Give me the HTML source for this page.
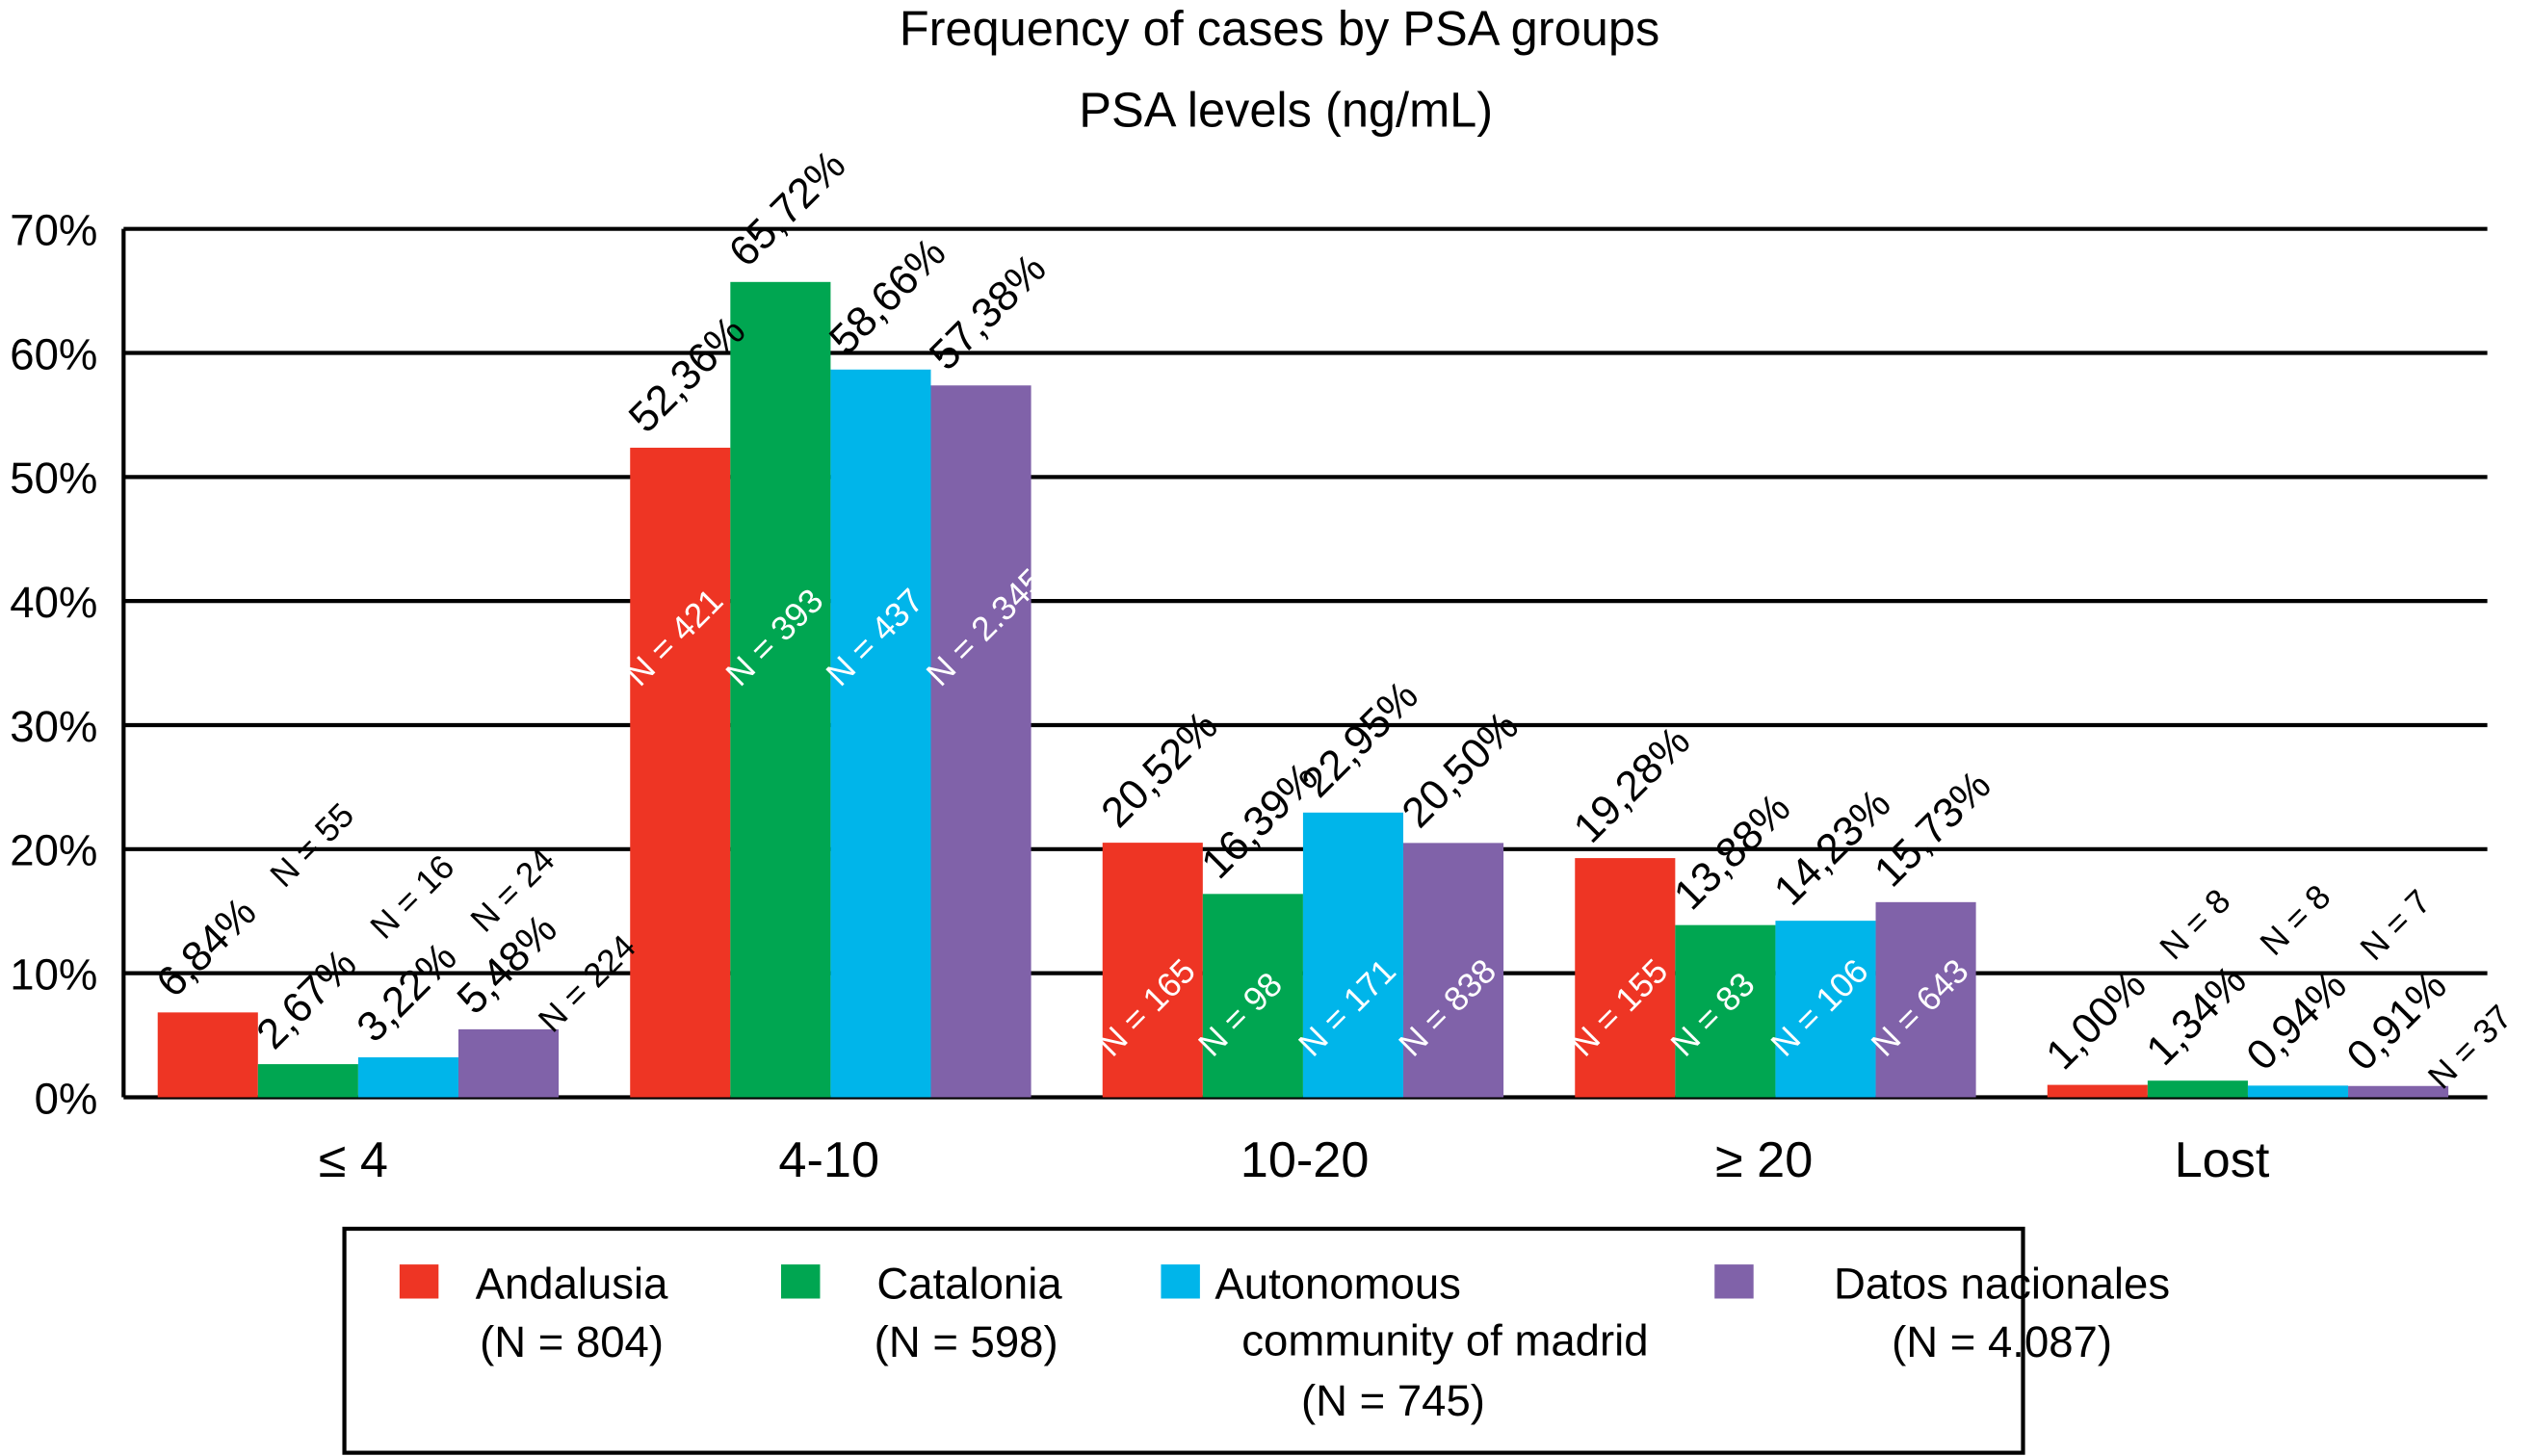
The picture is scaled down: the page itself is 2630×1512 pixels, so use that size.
<!DOCTYPE html>
<html><head><meta charset="utf-8"><style>
html,body{margin:0;padding:0;background:#fff;}
svg{display:block;font-family:"Liberation Sans",Arial,sans-serif;}
</style></head><body>
<svg id="chart" width="2630" height="1512" viewBox="0 0 1560 897" xmlns="http://www.w3.org/2000/svg">
<text x="788" y="28" font-size="30" text-anchor="middle">Frequency of cases by PSA groups</text>
<text x="792" y="78" font-size="30" text-anchor="middle">PSA levels (ng/mL)</text>
<g id="grid"></g><g id="bars"></g><g id="labels"></g>
<g>
<rect x="212" y="757" width="1034" height="138" fill="none" stroke="#000" stroke-width="2.5"/>
<rect x="246" y="779" width="24" height="21" fill="#EE3524"/>
<text font-size="27" text-anchor="middle"><tspan x="352" y="800">Andalusia</tspan><tspan x="352" y="836">(N = 804)</tspan></text>
<rect x="481" y="779" width="24" height="21" fill="#00A651"/>
<text font-size="27" text-anchor="middle"><tspan x="597" y="800">Catalonia</tspan><tspan x="595" y="836">(N = 598)</tspan></text>
<rect x="715" y="779" width="24" height="21" fill="#00B5EA"/>
<text font-size="27" text-anchor="middle"><tspan x="824" y="800">Autonomous</tspan><tspan x="890" y="835">community of madrid</tspan><tspan x="858" y="872">(N = 745)</tspan></text>
<rect x="1056" y="779" width="24" height="21" fill="#8062A9"/>
<text font-size="27" text-anchor="middle"><tspan x="1233" y="800">Datos nacionales</tspan><tspan x="1233" y="836">(N = 4.087)</tspan></text>
</g>
</svg>
<script>
const categories = ["\u2264 4","4-10","10-20","\u2265 20","Lost"];
const seriesNames = ["Andalusia","Catalonia","Madrid","Nacional"];
const andalusia = [6.84,52.36,20.52,19.28,1.00];
const catalonia = [2.67,65.72,16.39,13.88,1.34];
const madrid = [3.22,58.66,22.95,14.23,0.94];
const nacional = [5.48,57.38,20.50,15.73,0.91];
const nAndalusia = ["55","421","165","155","8"];
const nCatalonia = ["16","393","98","83","8"];
const nMadrid = ["24","437","171","106","7"];
const nNacional = ["224","2.345","838","643","37"];
const yTicks = [0,10,20,30,40,50,60,70];
const colors = ["#EE3524","#00A651","#00B5EA","#8062A9"];
const values = [andalusia,catalonia,madrid,nacional];
const nvals = [nAndalusia,nCatalonia,nMadrid,nNacional];
const L=76,R=1532,T=141,B=676,maxV=70;
const y=v=>B-(v/maxV)*(B-T);
const catW=291, barW=61.75, off=21;
const x=(c,s)=>L+c*catW+off+s*barW;
const labelShift=[-4,-2,0,-8,-17];
const NS="http://www.w3.org/2000/svg";
function mk(tag,parent,attrs){const e=document.createElementNS(NS,tag);for(const k in attrs)e.setAttribute(k,attrs[k]);parent.appendChild(e);return e;}
const grid=document.getElementById('grid'),bars=document.getElementById('bars'),labels=document.getElementById('labels');
yTicks.forEach(t=>{
  const ln=mk('line',grid,{x1:L,x2:R,y1:y(t),y2:y(t),stroke:'#000','stroke-width':2.5});
  
  
  const tx=mk('text',grid,{x:60,y:y(t)+10,'font-size':27,'text-anchor':'end'});
  tx.textContent=t+'%';
  
  
});
const ax=mk('line',grid,{x1:L,x2:L,y1:T,y2:B,stroke:'#000','stroke-width':2.5});


categories.forEach((c,ci)=>{
  const tx=mk('text',labels,{x:L+ci*catW+catW/2+labelShift[ci],y:725,'font-size':31,'text-anchor':'middle'});
  tx.textContent=c;
  
  
});
values.forEach((arr,s)=>{
  arr.forEach((v,ci)=>{
    const bx=x(ci,s),by=y(v);
    const r=mk('rect',bars,{x:bx,y:by,width:barW,height:B-by,fill:colors[s]});
    
    
    const px=bx+10,py=by-8;
    const t=mk('text',labels,{x:px,y:py,'font-size':26,transform:`rotate(-45 ${px} ${py})`});
    t.textContent=v.toFixed(2).replace('.',',')+'%';
    
    
    let nx,ny,fill;
    if(v>=10){fill='#fff';nx=bx+6;ny=v>40?y(33):B-24;}
    else{fill='#000';
      if(s==3){nx=bx+58;ny=by+3;}
      else{nx=px+68;ny=py-68;}
    }
    const n=mk('text',labels,{x:nx,y:ny,'font-size':21,fill:fill,transform:`rotate(-45 ${nx} ${ny})`});
    n.textContent='N = '+nvals[s][ci];
    
    
  });
});
</script>
</body></html>
